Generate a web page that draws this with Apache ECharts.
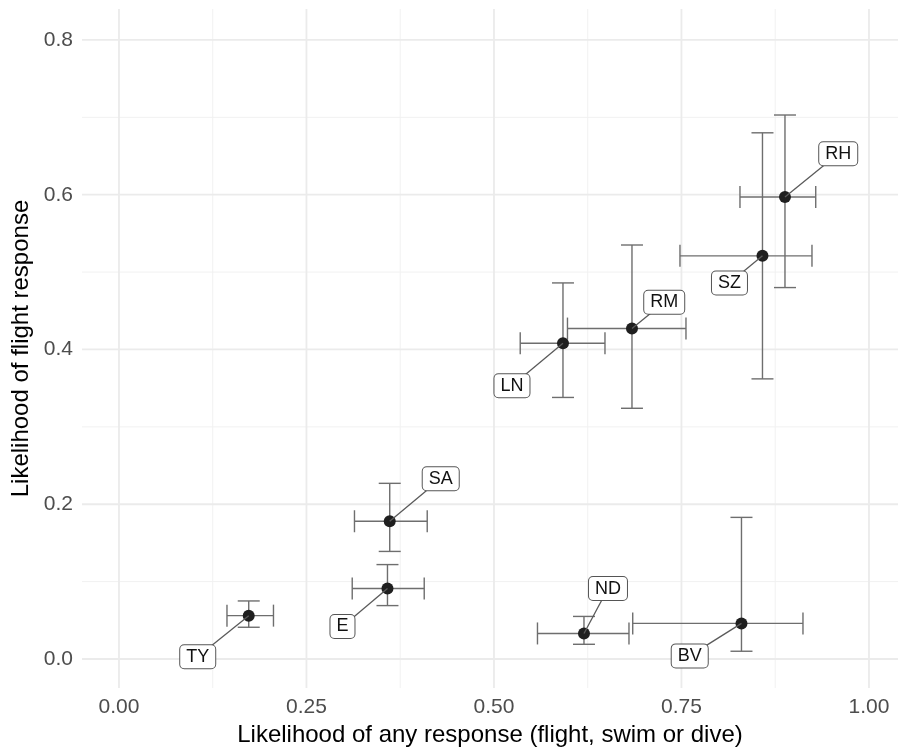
<!DOCTYPE html>
<html>
<head>
<meta charset="utf-8">
<script src="https://cdn.jsdelivr.net/npm/echarts@6/dist/echarts.min.js"></script>
<style>
  html, body { margin: 0; padding: 0; background: #fff; }
  #chart { width: 898px; height: 752px; }
</style>
</head>
<body>
<div id="chart"></div>
<script>
// 各物种的数据
var species   = ['TY', 'E', 'SA', 'ND', 'BV', 'LN', 'RM', 'SZ', 'RH'];
var anyResp   = [0.173, 0.358, 0.361, 0.620, 0.830, 0.592, 0.684, 0.858, 0.888];
var anyLow    = [0.144, 0.311, 0.314, 0.558, 0.685, 0.535, 0.598, 0.748, 0.828];
var anyHigh   = [0.206, 0.407, 0.411, 0.680, 0.912, 0.648, 0.756, 0.924, 0.929];
var flight    = [0.056, 0.091, 0.178, 0.033, 0.046, 0.408, 0.427, 0.521, 0.597];
var flightLow = [0.041, 0.069, 0.139, 0.019, 0.010, 0.338, 0.324, 0.362, 0.480];
var flightHigh= [0.075, 0.122, 0.227, 0.055, 0.183, 0.486, 0.535, 0.680, 0.703];
// 标签框中心位置（ggrepel 排开后的位置）
var labelX    = [0.105, 0.298, 0.429, 0.652, 0.761, 0.524, 0.727, 0.814, 0.959];
var labelY    = [0.003, 0.042, 0.233, 0.091, 0.004, 0.353, 0.461, 0.486, 0.653];

var xTicks = [0, 0.25, 0.5, 0.75, 1.0];
var xMinor = [0.125, 0.375, 0.625, 0.875];
var yTicks = [0, 0.2, 0.4, 0.6, 0.8];
var yMinor = [0.1, 0.3, 0.5, 0.7];

var FONT = '"Liberation Sans", Arial, sans-serif';

function init(echarts) {
    var myChart = echarts.init(document.getElementById('chart'));

    var errData = [], pts = [], labData = [];
    for (var i = 0; i < species.length; i++) {
        errData.push([anyResp[i], flight[i], anyLow[i], anyHigh[i], flightLow[i], flightHigh[i]]);
        pts.push([anyResp[i], flight[i]]);
        labData.push([anyResp[i], flight[i], labelX[i], labelY[i], species[i]]);
    }

    // 网格线: [值, 方向(0=竖线 1=横线), 是否主网格]
    var gridData = [];
    xMinor.forEach(function (v) { gridData.push([v, 0, 0]); });
    yMinor.forEach(function (v) { gridData.push([v, 1, 0]); });
    xTicks.forEach(function (v) { gridData.push([v, 0, 1]); });
    yTicks.forEach(function (v) { gridData.push([v, 1, 1]); });

    var option = {
        animation: false,
        grid: { left: 82, right: 0, top: 9, bottom: 64 },
        xAxis: {
            type: 'value', min: -0.0493, max: 1.0387,
            name: 'Likelihood of any response (flight, swim or dive)',
            nameLocation: 'middle', nameGap: 30,
            nameTextStyle: { fontFamily: FONT, fontSize: 24, color: '#000' },
            axisLine: { show: false }, axisTick: { show: false }, splitLine: { show: false },
            axisLabel: {
                customValues: xTicks, margin: 9,
                fontFamily: FONT, fontSize: 21, color: '#4d4d4d',
                formatter: function (v) { return v.toFixed(2); }
            }
        },
        yAxis: {
            type: 'value', min: -0.0375, max: 0.840,
            name: 'Likelihood of flight response',
            nameLocation: 'middle', nameGap: 47,
            nameTextStyle: { fontFamily: FONT, fontSize: 24, color: '#000' },
            axisLine: { show: false }, axisTick: { show: false }, splitLine: { show: false },
            axisLabel: {
                customValues: yTicks, margin: 9,
                fontFamily: FONT, fontSize: 21, color: '#4d4d4d',
                formatter: function (v) { return v.toFixed(1); }
            }
        },
        series: [
            {
                type: 'custom', z: 0, silent: true, data: gridData,
                encode: { x: -1, y: -1 },
                renderItem: function (params, api) {
                    var cs = params.coordSys;
                    var v = api.value(0), dir = api.value(1), major = api.value(2);
                    var st = { stroke: major ? '#ebebeb' : '#f1f1f1', lineWidth: major ? 1.8 : 1 };
                    if (dir === 0) {
                        var px = api.coord([v, 0])[0];
                        return { type: 'line', shape: { x1: px, y1: cs.y, x2: px, y2: cs.y + cs.height }, style: st };
                    }
                    var py = api.coord([0, v])[1];
                    return { type: 'line', shape: { x1: cs.x, y1: py, x2: cs.x + cs.width, y2: py }, style: st };
                }
            },
            {
                type: 'custom', z: 2, data: errData,
                encode: { x: [0, 2, 3], y: [1, 4, 5] },
                renderItem: function (params, api) {
                    var c = api.coord([api.value(0), api.value(1)]);
                    var l = api.coord([api.value(2), api.value(1)]);
                    var r = api.coord([api.value(3), api.value(1)]);
                    var lo = api.coord([api.value(0), api.value(4)]);
                    var hi = api.coord([api.value(0), api.value(5)]);
                    var h = 11;
                    var st = { stroke: '#6e6e6e', lineWidth: 1.4 };
                    return {
                        type: 'group',
                        children: [
                            { type: 'line', shape: { x1: l[0], y1: c[1], x2: r[0], y2: c[1] }, style: st },
                            { type: 'line', shape: { x1: l[0], y1: c[1] - h, x2: l[0], y2: c[1] + h }, style: st },
                            { type: 'line', shape: { x1: r[0], y1: c[1] - h, x2: r[0], y2: c[1] + h }, style: st },
                            { type: 'line', shape: { x1: c[0], y1: lo[1], x2: c[0], y2: hi[1] }, style: st },
                            { type: 'line', shape: { x1: c[0] - h, y1: lo[1], x2: c[0] + h, y2: lo[1] }, style: st },
                            { type: 'line', shape: { x1: c[0] - h, y1: hi[1], x2: c[0] + h, y2: hi[1] }, style: st }
                        ]
                    };
                }
            },
            {
                type: 'scatter', z: 3, data: pts, symbolSize: 12,
                itemStyle: { color: '#1f1f1f', opacity: 1 }
            },
            {
                type: 'custom', z: 4, data: labData,
                encode: { x: [0, 2], y: [1, 3] },
                renderItem: function (params, api) {
                    var p = api.coord([api.value(0), api.value(1)]);
                    var q = api.coord([api.value(2), api.value(3)]);
                    return {
                        type: 'group',
                        children: [
                            { type: 'line', shape: { x1: p[0], y1: p[1], x2: q[0], y2: q[1] },
                              style: { stroke: '#5a5a5a', lineWidth: 1.3 } },
                            { type: 'text', x: q[0], y: q[1],
                              style: {
                                  text: api.value(4), fill: '#111',
                                  fontFamily: FONT, fontSize: 18,
                                  align: 'center', verticalAlign: 'middle',
                                  backgroundColor: '#fff', borderColor: '#555', borderWidth: 1,
                                  borderRadius: 4, padding: [3, 6, 2, 6]
                              } }
                        ]
                    };
                }
            }
        ]
    };
    myChart.setOption(option);
    window.addEventListener("resize", function () { myChart.resize(); });
}

init(echarts);
</script>
</body>
</html>
